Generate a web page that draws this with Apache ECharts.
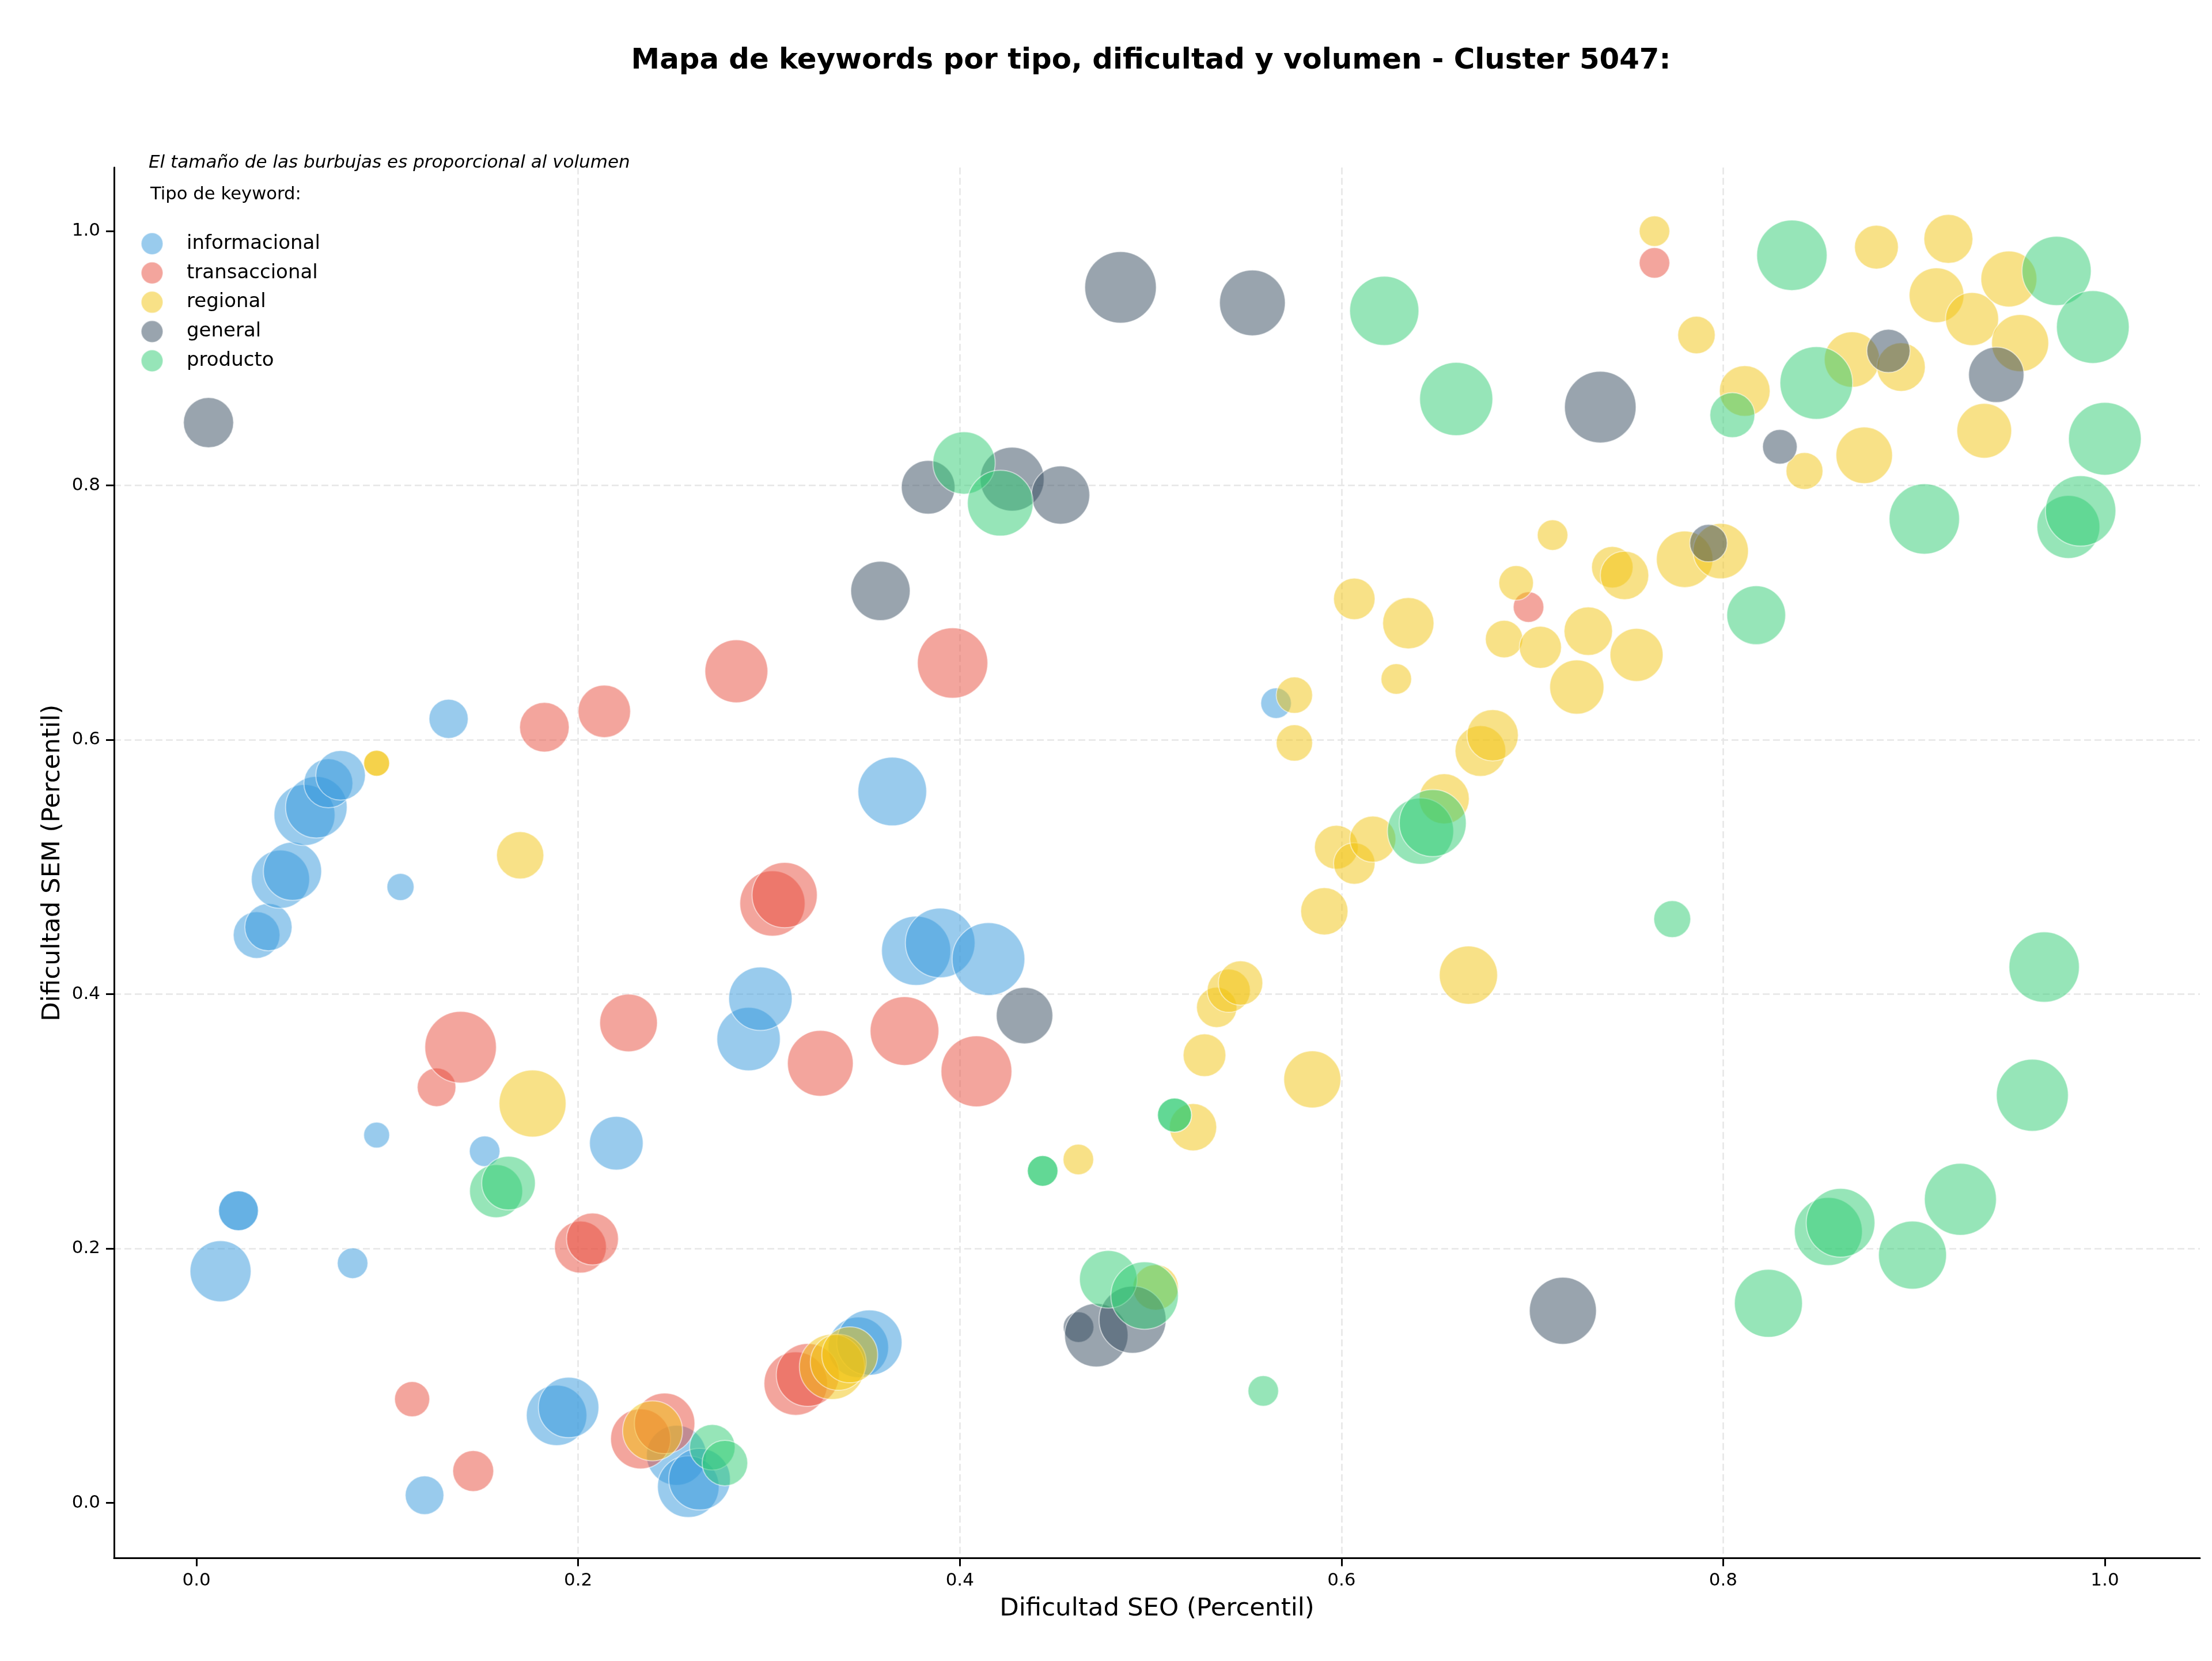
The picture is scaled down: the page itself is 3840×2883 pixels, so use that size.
<!DOCTYPE html>
<html>
<head>
<meta charset="utf-8">
<title>Mapa de keywords</title>
<style>html,body{margin:0;padding:0;background:#fff}#chart{width:3840px;height:2883px}</style>
<script src="https://cdn.jsdelivr.net/npm/echarts@6/dist/echarts.min.js"></script>
</head>
<body>
<div id="chart"></div>
<script>
// Keyword types, in drawing order
const tipos = ['informacional', 'transaccional', 'regional', 'general', 'producto'];
const colores = ['#3498db', '#e74c3c', '#f1c40f', '#34495e', '#2ecc71'];
const ticks = [0, 0.2, 0.4, 0.6, 0.8, 1.0];

// SEO percentile, SEM percentile and search volume of each keyword
const informacionalSeo = [.0126,.022,.022,.0315,.0377,.044,.0503,.0566,.0628,.0691,.0755,.0818,.0944,.1069,.1195,.1321,.151,.1887,.195,.22,.2515,.2577,.2636,.2893,.2955,.3468,.3526,.3646,.3771,.3897,.415,.5657];
const informacionalSem = [.1821,.2297,.2297,.4465,.4527,.4904,.4966,.5409,.547,.5658,.5721,.1884,.2892,.4843,.006,.6165,.2765,.0688,.075,.2828,.0374,.0127,.0186,.3647,.3964,.1223,.126,.5594,.4341,.4403,.4276,.6288];
const informacionalVol = [112,47.6,47.6,65.6,67.2,102,102,112,114,72.2,74,28.1,20.2,22.1,44.9,46.2,28.1,110,110,86.5,108,114,114,121,121,110,128,142,144,146,159,28.1];

const transaccionalSeo = [.113,.145,.1258,.1384,.1823,.2012,.2075,.2137,.2264,.2327,.2453,.2829,.3018,.3082,.314,.3203,.3269,.371,.3962,.4087,.698,.764];
const transaccionalSem = [.0815,.025,.3268,.3583,.6099,.2011,.2075,.6224,.3774,.0503,.0625,.6539,.4713,.4779,.0938,.1006,.3456,.371,.6604,.3393,.7044,.975];
const transaccionalVol = [37.2,50.4,44.9,154,74,81,81,82.8,100,108,110,119,128,128,121,119,130,142,149,151,28.1,28.1];

const regionalSeo = [.0944,.0944,.1696,.1761,.239,.333,.3363,.3423,.4621,.5026,.5222,.5282,.5346,.5409,.5471,.5753,.5753,.5847,.591,.5973,.6067,.6164,.6287,.6067,.635,.6538,.6665,.6728,.6792,.6852,.6915,.7042,.7106,.7233,.7293,.7419,.7483,.7546,.7798,.7987,.764,.786,.8113,.8426,.8675,.8739,.8803,.8932,.9118,.918,.9304,.9368,.9497,.9556];
const regionalSem = [.5816,.5816,.5092,.314,.0566,.1069,.1105,.1164,.27,.1694,.2954,.352,.3896,.4027,.4088,.5975,.6351,.333,.4652,.5155,.5028,.5219,.6478,.7108,.6917,.5536,.415,.5912,.6036,.6792,.7234,.6727,.761,.6415,.6854,.7357,.7293,.6668,.742,.7484,1.0,.9183,.8743,.8114,.899,.8237,.9874,.8931,.9496,.9939,.9309,.843,.9624,.912];
const regionalVol = [20.2,20.2,67.2,135,108,128,94.1,94.1,28.1,62.4,67.2,54.8,49,56.2,59.3,39.7,39.7,98,67.2,57.8,51.8,64,28.1,51.8,79.2,75.7,102,77.4,79.2,42.2,36,53.3,28.1,88.4,70.6,51.8,70.6,84.6,96,92.2,28.1,42.2,77.4,41,92.2,96,57.8,70.6,90.2,72.2,84.6,90.2,94.1,98];

const generalSeo = [.0063,.3584,.3834,.4274,.4339,.4528,.4622,.4715,.4842,.4905,.5533,.716,.7356,.7923,.8297,.8866,.9431];
const generalSem = [.8494,.7171,.7986,.805,.3832,.7925,.1382,.1318,.9558,.144,.9436,.151,.8616,.7547,.8304,.9058,.887];
const generalVol = [75.7,106,86.5,123,96,102,28.1,121,154,135,130,135,154,42.2,36,56.2,92.2];

const productoSeo = [.157,.1635,.2703,.2769,.4022,.4212,.4434,.4434,.4778,.4968,.5125,.5125,.559,.6224,.6414,.6478,.6601,.7733,.8048,.8173,.8237,.836,.8488,.8551,.8615,.8992,.9054,.9243,.962,.9682,.9747,.9809,.9873,.9937,1.0];
const productoSem = [.2451,.2514,.0437,.0313,.8177,.7861,.261,.261,.1758,.163,.3049,.3049,.088,.9373,.5282,.5345,.868,.459,.8553,.698,.1569,.981,.8806,.2134,.2202,.1948,.7737,.2387,.3205,.4213,.9687,.7674,.78,.9246,.8367];
const productoVol = [84.6,86.5,62.4,62.4,117,130,28.1,28.1,100,137,34.8,34.8,28.1,144,132,135,161,41,60.8,104,139,149,159,139,142,139,149,156,156,149,144,119,149,159,159];

const columnas = [
  [informacionalSeo, informacionalSem, informacionalVol],
  [transaccionalSeo, transaccionalSem, transaccionalVol],
  [regionalSeo, regionalSem, regionalVol],
  [generalSeo, generalSem, generalVol],
  [productoSeo, productoSem, productoVol]
];

const fuente = '"DejaVu Sans"';
const tinta = '#000000';

// Bubble area is proportional to volume
const diametro = p => 10 * Math.sqrt(p[2]);

const ejeComun = {
  type: 'value',
  nameLocation: 'middle',
  nameTextStyle: { fontFamily: fuente, fontSize: 43.5, color: tinta },
  axisLine: { show: true, onZero: false, lineStyle: { color: tinta, width: 3 } },
  axisTick: { show: true, length: 14, customValues: ticks, lineStyle: { color: tinta, width: 3 } },
  axisLabel: { show: true, customValues: ticks, fontFamily: fuente, fontSize: 31, color: tinta,
    formatter: v => v.toFixed(1) },
  splitLine: { show: true, showMinLine: false, showMaxLine: false,
    lineStyle: { color: '#e6e6e6', width: 2.5, type: [12, 6] } }
};

const chart = echarts.init(document.getElementById('chart'), null, { renderer: 'canvas' });
chart.setOption({
  animation: false,
  backgroundColor: '#ffffff',
  color: colores,
  title: [
    { text: 'Mapa de keywords por tipo, dificultad y volumen - Cluster 5047:', left: 1998, top: 81, textAlign: 'center',
      padding: 0, textStyle: { fontFamily: fuente, fontSize: 49.8, fontWeight: 'bold', color: tinta } },
    { text: 'El tamaño de las burbujas es proporcional al volumen', left: 258, top: 267, padding: 0,
      textStyle: { fontFamily: fuente, fontSize: 31, fontStyle: 'italic', fontWeight: 'normal', color: tinta } },
    { text: 'Tipo de keyword:', left: 261, top: 323, padding: 0,
      textStyle: { fontFamily: fuente, fontSize: 30.7, fontWeight: 'normal', color: tinta } }
  ],
  legend: {
    data: tipos,
    orient: 'vertical',
    left: 244, top: 403, padding: 0,
    itemWidth: 38, itemHeight: 38, itemGap: 10.8,
    icon: 'circle',
    textStyle: { fontFamily: fuente, fontSize: 34, color: tinta, padding: [0, 0, 0, 36] }
  },
  grid: { left: 198, right: 21, top: 290.8, bottom: 178.5, containLabel: false },
  xAxis: Object.assign({}, ejeComun, { min: -0.0432, max: 1.0498, name: 'Dificultad SEO (Percentil)', nameGap: 66,
    axisLabel: Object.assign({}, ejeComun.axisLabel, { margin: 24 }) }),
  yAxis: Object.assign({}, ejeComun, { min: -0.0435, max: 1.05, name: 'Dificultad SEM (Percentil)', nameGap: 82,
    axisLabel: Object.assign({}, ejeComun.axisLabel, { margin: 24 }) }),
  series: tipos.map((nombre, i) => ({
    name: nombre,
    type: 'scatter',
    data: columnas[i][0].map((x, k) => [x, columnas[i][1][k], columnas[i][2][k]]),
    symbol: 'circle',
    symbolSize: diametro,
    itemStyle: { color: colores[i], opacity: 0.5, borderColor: '#ffffff', borderWidth: 2 }
  }))
});
</script>
</body>
</html>
